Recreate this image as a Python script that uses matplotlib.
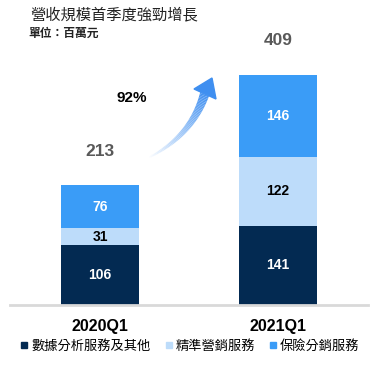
import matplotlib
matplotlib.use("Agg")
import matplotlib.pyplot as plt
import numpy as np
from matplotlib.collections import LineCollection
from matplotlib.lines import Line2D
from matplotlib.patches import Polygon
from matplotlib.colors import to_rgb

plt.rcParams["font.family"] = ["Liberation Sans", "Noto Sans CJK TC", "DejaVu Sans"]

# data
quarters = ["2020Q1", "2021Q1"]
data_other = [106, 141]       # 數據分析服務及其他
precision_mkt = [31, 122]     # 精準營銷服務
insurance_dist = [76, 146]    # 保險分銷服務
series_names = ["數據分析服務及其他", "精準營銷服務", "保險分銷服務"]
growth_label = "92%"
title = "營收規模首季度強勁增長"
unit_label = "單位：百萬元"

COLORS = ["#032a52", "#bddcfa", "#3a9cf7"]
TEXT_COLORS = ["white", "black", "white"]
W, H = 382, 372

fig = plt.figure(figsize=(W / 100, H / 100), dpi=100)
ax = fig.add_axes([10 / W, (H - 305) / H, 358 / W, 230 / H])

x = np.arange(len(quarters))
bottom = np.zeros(len(quarters))
for vals, color, tcol in zip([data_other, precision_mkt, insurance_dist], COLORS, TEXT_COLORS):
    bars = ax.bar(x, vals, width=0.435, bottom=bottom, color=color, zorder=2)
    for b, v in zip(bars, vals):
        ax.text(b.get_x() + b.get_width() / 2, b.get_y() + b.get_height() / 2, str(v),
                ha="center", va="center", color=tcol, fontsize=10, fontweight="bold")
    bottom += np.array(vals)

for xi, tot in zip(x, bottom):
    ax.annotate(f"{int(tot)}", (xi, tot), xytext=(0, 24.5), textcoords="offset points",
                ha="center", va="center", fontsize=12.5, fontweight="bold", color="#595959")

ax.set_xlim(-0.506, 1.506)
ax.set_ylim(0, 409)
ax.set_xticks(x)
ax.set_xticklabels(quarters, fontsize=11.5, fontweight="bold")
ax.tick_params(axis="x", length=0, pad=10)
ax.set_yticks([])
for side in ["top", "right", "left"]:
    ax.spines[side].set_visible(False)
ax.spines["bottom"].set_color("#d9d9d9")
ax.spines["bottom"].set_linewidth(2)
ax.set_facecolor("none")

# curved gradient arrow (figure pixel coords from top-left)
def px(xp, yp):
    return xp / W, 1 - yp / H

p0, p1, p2 = np.array([148, 158]), np.array([192, 136]), np.array([205, 93])
t = np.linspace(0, 1, 60)
curve = ((1 - t)[:, None] ** 2) * p0 + (2 * (1 - t) * t)[:, None] * p1 + (t ** 2)[:, None] * p2
pts = np.array([px(a, b) for a, b in curve])
segs = np.stack([pts[:-1], pts[1:]], axis=1)
c0, c1 = np.array(to_rgb("#ffffff")), np.array(to_rgb("#3f8ff0"))
cols = [c0 + (c1 - c0) * s ** 0.9 for s in t[:-1]]
lws = 1 + 6 * t[:-1]
lc = LineCollection(segs, colors=cols, linewidths=lws, transform=fig.transFigure, capstyle="butt")
fig.add_artist(lc)
head = Polygon([px(194, 89), px(212, 78), px(216, 99)], closed=True, color="#3f8ff0",
               transform=fig.transFigure)
fig.add_artist(head)
fig.text(*px(132, 98), growth_label, ha="center", va="center", fontsize=11, fontweight="bold")

fig.text(*px(30, 15), title, ha="left", va="center", fontsize=11, color="#222222",
         family=["Noto Sans CJK TC", "DejaVu Sans"])
fig.text(*px(28, 33), unit_label, ha="left", va="center", fontsize=8.5, color="#222222",
         family=["Noto Sans CJK TC", "DejaVu Sans"], fontweight="bold")

handles = [Line2D([], [], marker="s", linestyle="none", markersize=5, color=c) for c in COLORS]
fig.legend(handles, series_names, loc="center", bbox_to_anchor=(190 / W, 1 - 346 / H), ncol=3,
           frameon=False, handlelength=0.6, handletextpad=0.2, columnspacing=1.1,
           prop={"family": ["Noto Sans CJK TC", "DejaVu Sans"], "size": 9.5})

fig.savefig("out.png", dpi=100)
